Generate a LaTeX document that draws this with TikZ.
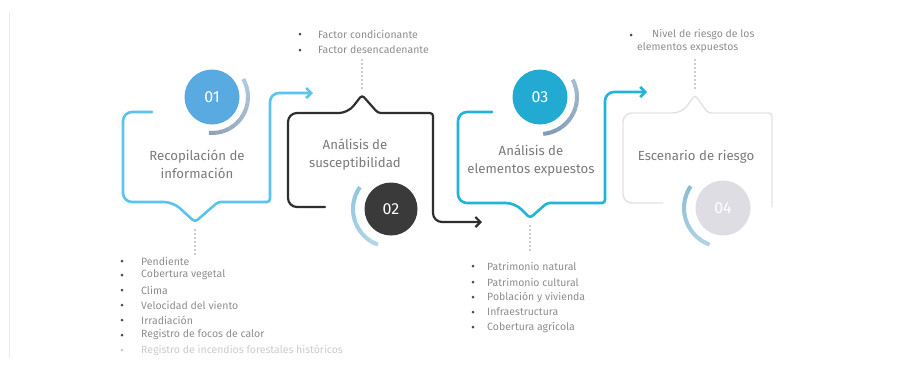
\documentclass[tikz,border=0pt]{standalone}
\usepackage{fontspec}
\setmainfont{Fira Sans}
\usetikzlibrary{arrows.meta,calc}
\definecolor{boxA}{HTML}{5CC3EE}
\definecolor{boxB}{HTML}{2E2E2E}
\definecolor{boxC}{HTML}{22B4D8}
\definecolor{boxD}{HTML}{E2E2E4}
\definecolor{circA}{HTML}{5AAAE2}
\definecolor{circB}{HTML}{3A3A3A}
\definecolor{circC}{HTML}{23AAD2}
\definecolor{circD}{HTML}{DDDDE3}
\definecolor{txtgrey}{HTML}{7A7A7A}
\definecolor{lstgrey}{HTML}{8E8E8E}
\definecolor{bulgrey}{HTML}{4A4A4A}
\definecolor{dotgrey}{HTML}{9A9A9A}
\definecolor{arcAa}{HTML}{B0CADF}
\definecolor{arcAb}{HTML}{8FA3B8}
\definecolor{arcBa}{HTML}{8EC6DF}
\definecolor{arcBb}{HTML}{B0D6E8}
\definecolor{arcCa}{HTML}{A3BDCE}
\definecolor{arcCb}{HTML}{7E9CB5}
\definecolor{arcDa}{HTML}{8DBDD6}
\definecolor{arcDb}{HTML}{B0D3E4}
\definecolor{edgegrey}{HTML}{EBEBEB}
\newcommand{\mygradarc}[7]{%
  \foreach \k in {0,...,11}{%
    \pgfmathsetmacro{\aa}{#3+(#4-#3)*\k/12}%
    \pgfmathsetmacro{\ab}{#3+(#4-#3)*min(\k+1.2,12)/12}%
    \pgfmathtruncatemacro{\pc}{100-100*\k/11}%
    \draw[line width=#7, draw=#5!\pc!#6] ($(#1)+(\aa:#2)$) arc[start angle=\aa, end angle=\ab, radius=#2];
  }}
\begin{document}
\begin{tikzpicture}[x=1pt,y=-1pt,
  boxline/.style={line width=2.6pt, rounded corners=9pt, line join=round, line cap=round},
  tip/.style={-{Straight Barb[length=5pt,width=10pt]}},
  numcircle/.style={circle, minimum size=55pt, inner sep=0pt, text=white, font=\fontsize{16}{16}\selectfont},
  boxtext/.style={text=txtgrey, font=\fontsize{13.2}{18}\selectfont, align=center},
  listtext/.style={text=lstgrey, font=\fontsize{10.5}{12}\selectfont, anchor=west, inner sep=0pt},
  bulletdot/.style={circle, fill=bulgrey, minimum size=3pt, inner sep=0pt},
  dotline/.style={draw=dotgrey, line width=1.6pt, line cap=round, dash pattern=on 0pt off 4pt}]
\useasboundingbox (0,0) rectangle (908,365);
\fill[white] (0,0) rectangle (908,365);
\draw[edgegrey, line width=1pt] (9,12) -- (9,358);

% coordinates
\coordinate (n1) at (195,222);
\coordinate (n2) at (362,95);
\coordinate (n3) at (530,218);
\coordinate (n4) at (695,95);

% box outlines
\draw[boxline, draw=boxA, tip] (152,112) -| (123,202) -- (173,202) [rounded corners=3pt] -- (n1) -- (218,202) -- (270,202) [rounded corners=9pt] -- (270,93) -- (313,93);
\draw[boxline, draw=boxB, line width=2.2pt, tip] (325,207) -| (288,113) -- (348,113) [rounded corners=3pt] -- (n2) -- (378,113) -- (433,113) [rounded corners=9pt] -- (433,222) -- (482,222);
\draw[boxline, draw=boxC, tip] (492,112) -| (458,203) -- (515,203) [rounded corners=3pt] -- (n3) -- (547,203) -- (605,203) [rounded corners=9pt] -- (605,92) -- (647,92);
\draw[boxline, draw=boxD, line width=1.4pt] (663,203) -| (623,113) -- (682,113) [rounded corners=3pt] -- (n4) -- (708,113) -- (772,113) [rounded corners=9pt] -- (772,207);

% dotted leaders
\draw[dotline] ($(n1)+(0,8)$) -- ($(n1)+(0,32)$);
\draw[dotline] ($(n2)+(0,-7)$) -- ($(n2)+(0,-36)$);
\draw[dotline] ($(n3)+(0,8)$) -- ($(n3)+(0,34)$);
\draw[dotline] ($(n4)+(0,-7)$) -- ($(n4)+(0,-36)$);

% number circles
\node[numcircle, fill=circA] (c1) at (212,97) {01};
\node[numcircle, fill=circB, minimum size=53pt] (c2) at (391,209) {02};
\node[numcircle, fill=circC] (c3) at (540,97) {03};
\node[numcircle, fill=circD] (c4) at (723,208) {04};

% arcs
\mygradarc{c1}{36}{-30}{95}{arcAa}{arcAb}{4pt}
\mygradarc{c2}{38}{-145}{-250}{arcBa}{arcBb}{4pt}
\mygradarc{c3}{37}{-28}{85}{arcCa}{arcCb}{4pt}
\mygradarc{c4}{39}{-146}{-250}{arcDa}{arcDb}{4pt}

% box texts
\node[boxtext] (t1) at (197,164) {Recopilación de\\información};
\node[boxtext] (t2) at (355,155) {Análisis de\\susceptibilidad};
\node[boxtext] (t3) at (531,161) {Análisis de\\elementos expuestos};
\node[boxtext] (t4) at (696,157) {Escenario de riesgo};

% list 1
\foreach \y/\t [count=\i] in {261/Pendiente, 275/Cobertura vegetal, 290/Clima, 305/Velocidad del viento, 320/Irradiación, 335/Registro de focos de calor}{
  \node[bulletdot] (b1-\i) at (122,\y) {};
  \node[listtext] (l1-\i) at (141,\y) {\t};
}
\node[bulletdot, fill=bulgrey!30] (b1-7) at (122,350) {};
\node[listtext, text=lstgrey!45] (l1-7) at (141,350) {Registro de incendios forestales históricos};

% list 2
\foreach \y/\t [count=\i] in {34/Factor condicionante, 50/Factor desencadenante}{
  \node[bulletdot] (b2-\i) at (300,\y) {};
  \node[listtext] (l2-\i) at (318,\y) {\t};
}

% list 3
\foreach \y/\t [count=\i] in {266/Patrimonio natural, 282/Patrimonio cultural, 297/Población y vivienda, 312/Infraestructura, 327/Cobertura agrícola}{
  \node[bulletdot] (b3-\i) at (473,\y) {};
  \node[listtext] (l3-\i) at (487,\y) {\t};
}

% list 4
\node[bulletdot] (b4-1) at (631,35) {};
\node[listtext] (l4-1) at (652,35) {Nivel de riesgo de los};
\node[listtext] (l4-2) at (637,48) {elementos expuestos};
\end{tikzpicture}
\end{document}
